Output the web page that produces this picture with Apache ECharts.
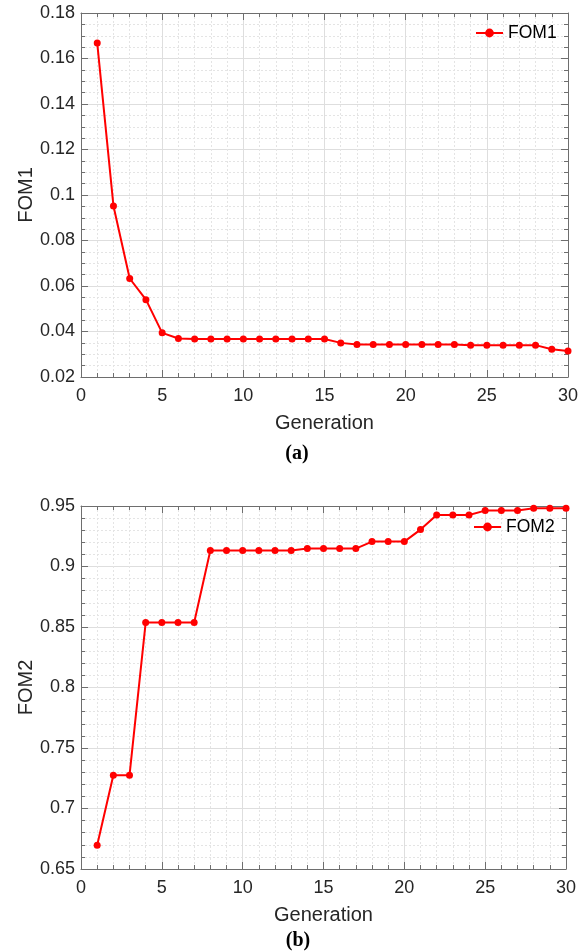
<!DOCTYPE html>
<html>
<head>
<meta charset="utf-8">
<script src="https://cdn.jsdelivr.net/npm/echarts@6/dist/echarts.min.js"></script>
<style>
html,body{margin:0;padding:0;background:#fff;}
#c{width:587px;height:951px;}
</style>
</head>
<body>
<div id="c"></div>
<script>
const generations = [1,2,3,4,5,6,7,8,9,10,11,12,13,14,15,16,17,18,19,20,21,22,23,24,25,26,27,28,29,30];
const fom1 = [0.1668,0.0952,0.0633,0.0540,0.0394,0.0369,0.0367,0.0367,0.0367,0.0367,0.0367,0.0367,0.0367,0.0367,0.0367,0.0350,0.0343,0.0343,0.0343,0.0343,0.0343,0.0343,0.0343,0.0340,0.0340,0.0340,0.0340,0.0340,0.0322,0.0314];
const fom2 = [0.6697,0.7274,0.7274,0.8537,0.8537,0.8537,0.8537,0.9133,0.9133,0.9133,0.9133,0.9133,0.9133,0.9148,0.9148,0.9148,0.9148,0.9206,0.9206,0.9206,0.9305,0.9426,0.9426,0.9426,0.9462,0.9462,0.9462,0.9481,0.9481,0.9481];
const xTicks = {min:0, max:30, interval:5};
const y1Ticks = {min:0.02, max:0.18, interval:0.02};
const y2Ticks = {min:0.65, max:0.95, interval:0.05};

const FONT = 'Liberation Sans, Arial, sans-serif';
const AX = '#6e6e6e';
const TXT = '#262626';

function mainX(gi, name){
  return {
    type:'value', gridIndex:gi, position:'bottom',
    min:xTicks.min, max:xTicks.max, interval:xTicks.interval,
    name:name, nameLocation:'middle', nameGap:36, nameMoveOverlap:false,
    nameTextStyle:{fontFamily:FONT, fontSize:20, color:TXT},
    axisLine:{show:true, onZero:false, lineStyle:{color:AX, width:1}},
    axisTick:{show:true, inside:true, length:7, lineStyle:{color:AX}},
    minorTick:{show:true, splitNumber:5, length:4, lineStyle:{color:AX}},
    axisLabel:{fontFamily:FONT, fontSize:18, color:TXT, margin:10},
    splitLine:{show:true, lineStyle:{color:'#dedede', width:1}},
    minorSplitLine:{show:true, lineStyle:{color:'#e4e4e4', type:[2,2], width:1}}
  };
}
function topX(gi){
  return {
    type:'value', gridIndex:gi, position:'top',
    min:xTicks.min, max:xTicks.max, interval:xTicks.interval,
    axisLine:{show:true, onZero:false, lineStyle:{color:AX, width:1}},
    axisTick:{show:true, inside:true, length:7, lineStyle:{color:AX}},
    minorTick:{show:true, splitNumber:5, length:4, lineStyle:{color:AX}},
    axisLabel:{show:false}, splitLine:{show:false}
  };
}
function mainY(gi, t, name, minor){
  return {
    type:'value', gridIndex:gi, position:'left',
    min:t.min, max:t.max, interval:t.interval,
    name:name, nameLocation:'middle', nameGap:45, nameRotate:90, nameMoveOverlap:false,
    nameTextStyle:{fontFamily:FONT, fontSize:20, color:TXT},
    axisLine:{show:true, onZero:false, lineStyle:{color:AX, width:1}},
    axisTick:{show:true, inside:true, length:7, lineStyle:{color:AX}},
    minorTick:{show:true, splitNumber:minor, length:4, lineStyle:{color:AX}},
    axisLabel:{fontFamily:FONT, fontSize:18, color:TXT, margin:6},
    splitLine:{show:true, lineStyle:{color:'#dedede', width:1}},
    minorSplitLine:{show:true, lineStyle:{color:'#e4e4e4', type:[2,2], width:1}}
  };
}
function rightY(gi, t, minor){
  return {
    type:'value', gridIndex:gi, position:'right',
    min:t.min, max:t.max, interval:t.interval,
    axisLine:{show:true, onZero:false, lineStyle:{color:AX, width:1}},
    axisTick:{show:true, inside:true, length:7, lineStyle:{color:AX}},
    minorTick:{show:true, splitNumber:minor, length:4, lineStyle:{color:AX}},
    axisLabel:{show:false}, splitLine:{show:false}
  };
}
function seriesOf(name, vals, xi, yi){
  return {
    name:name, type:'line', xAxisIndex:xi, yAxisIndex:yi,
    data:generations.map((g,i)=>[g, vals[i]]),
    symbol:'circle', symbolSize:7, showSymbol:true,
    lineStyle:{color:'#ff0000', width:2},
    itemStyle:{color:'#ff0000'},
    animation:false, z:5
  };
}

const chart = echarts.init(document.getElementById('c'), null, {renderer:'canvas'});
chart.setOption({
  backgroundColor:'#ffffff',
  animation:false,
  grid:[
    {left:81, top:13, width:487, height:364, containLabel:false},
    {left:81, top:506, width:485, height:363, containLabel:false}
  ],
  xAxis:[ mainX(0,'Generation'), topX(0), mainX(1,'Generation'), topX(1) ],
  yAxis:[ mainY(0,y1Ticks,'FOM1',4), rightY(0,y1Ticks,4), mainY(1,y2Ticks,'FOM2',5), rightY(1,y2Ticks,5) ],
  legend:[
    {data:['FOM1'], left:475, top:24, padding:0, itemWidth:27, itemHeight:11, itemGap:4,
     textStyle:{fontFamily:FONT, fontSize:17.5, color:'#000'}},
    {data:['FOM2'], left:473, top:518, padding:0, itemWidth:27, itemHeight:11, itemGap:4,
     textStyle:{fontFamily:FONT, fontSize:17.5, color:'#000'}}
  ],
  title:[
    {text:'(a)', left:297, top:444, textAlign:'center', padding:0,
     textStyle:{fontFamily:'Liberation Serif, Times New Roman, serif', fontWeight:'bold', fontSize:20, color:'#000'}},
    {text:'(b)', left:298, top:931, textAlign:'center', padding:0,
     textStyle:{fontFamily:'Liberation Serif, Times New Roman, serif', fontWeight:'bold', fontSize:20, color:'#000'}}
  ],
  series:[ seriesOf('FOM1', fom1, 0, 0), seriesOf('FOM2', fom2, 2, 2) ]
});
</script>
</body>
</html>
